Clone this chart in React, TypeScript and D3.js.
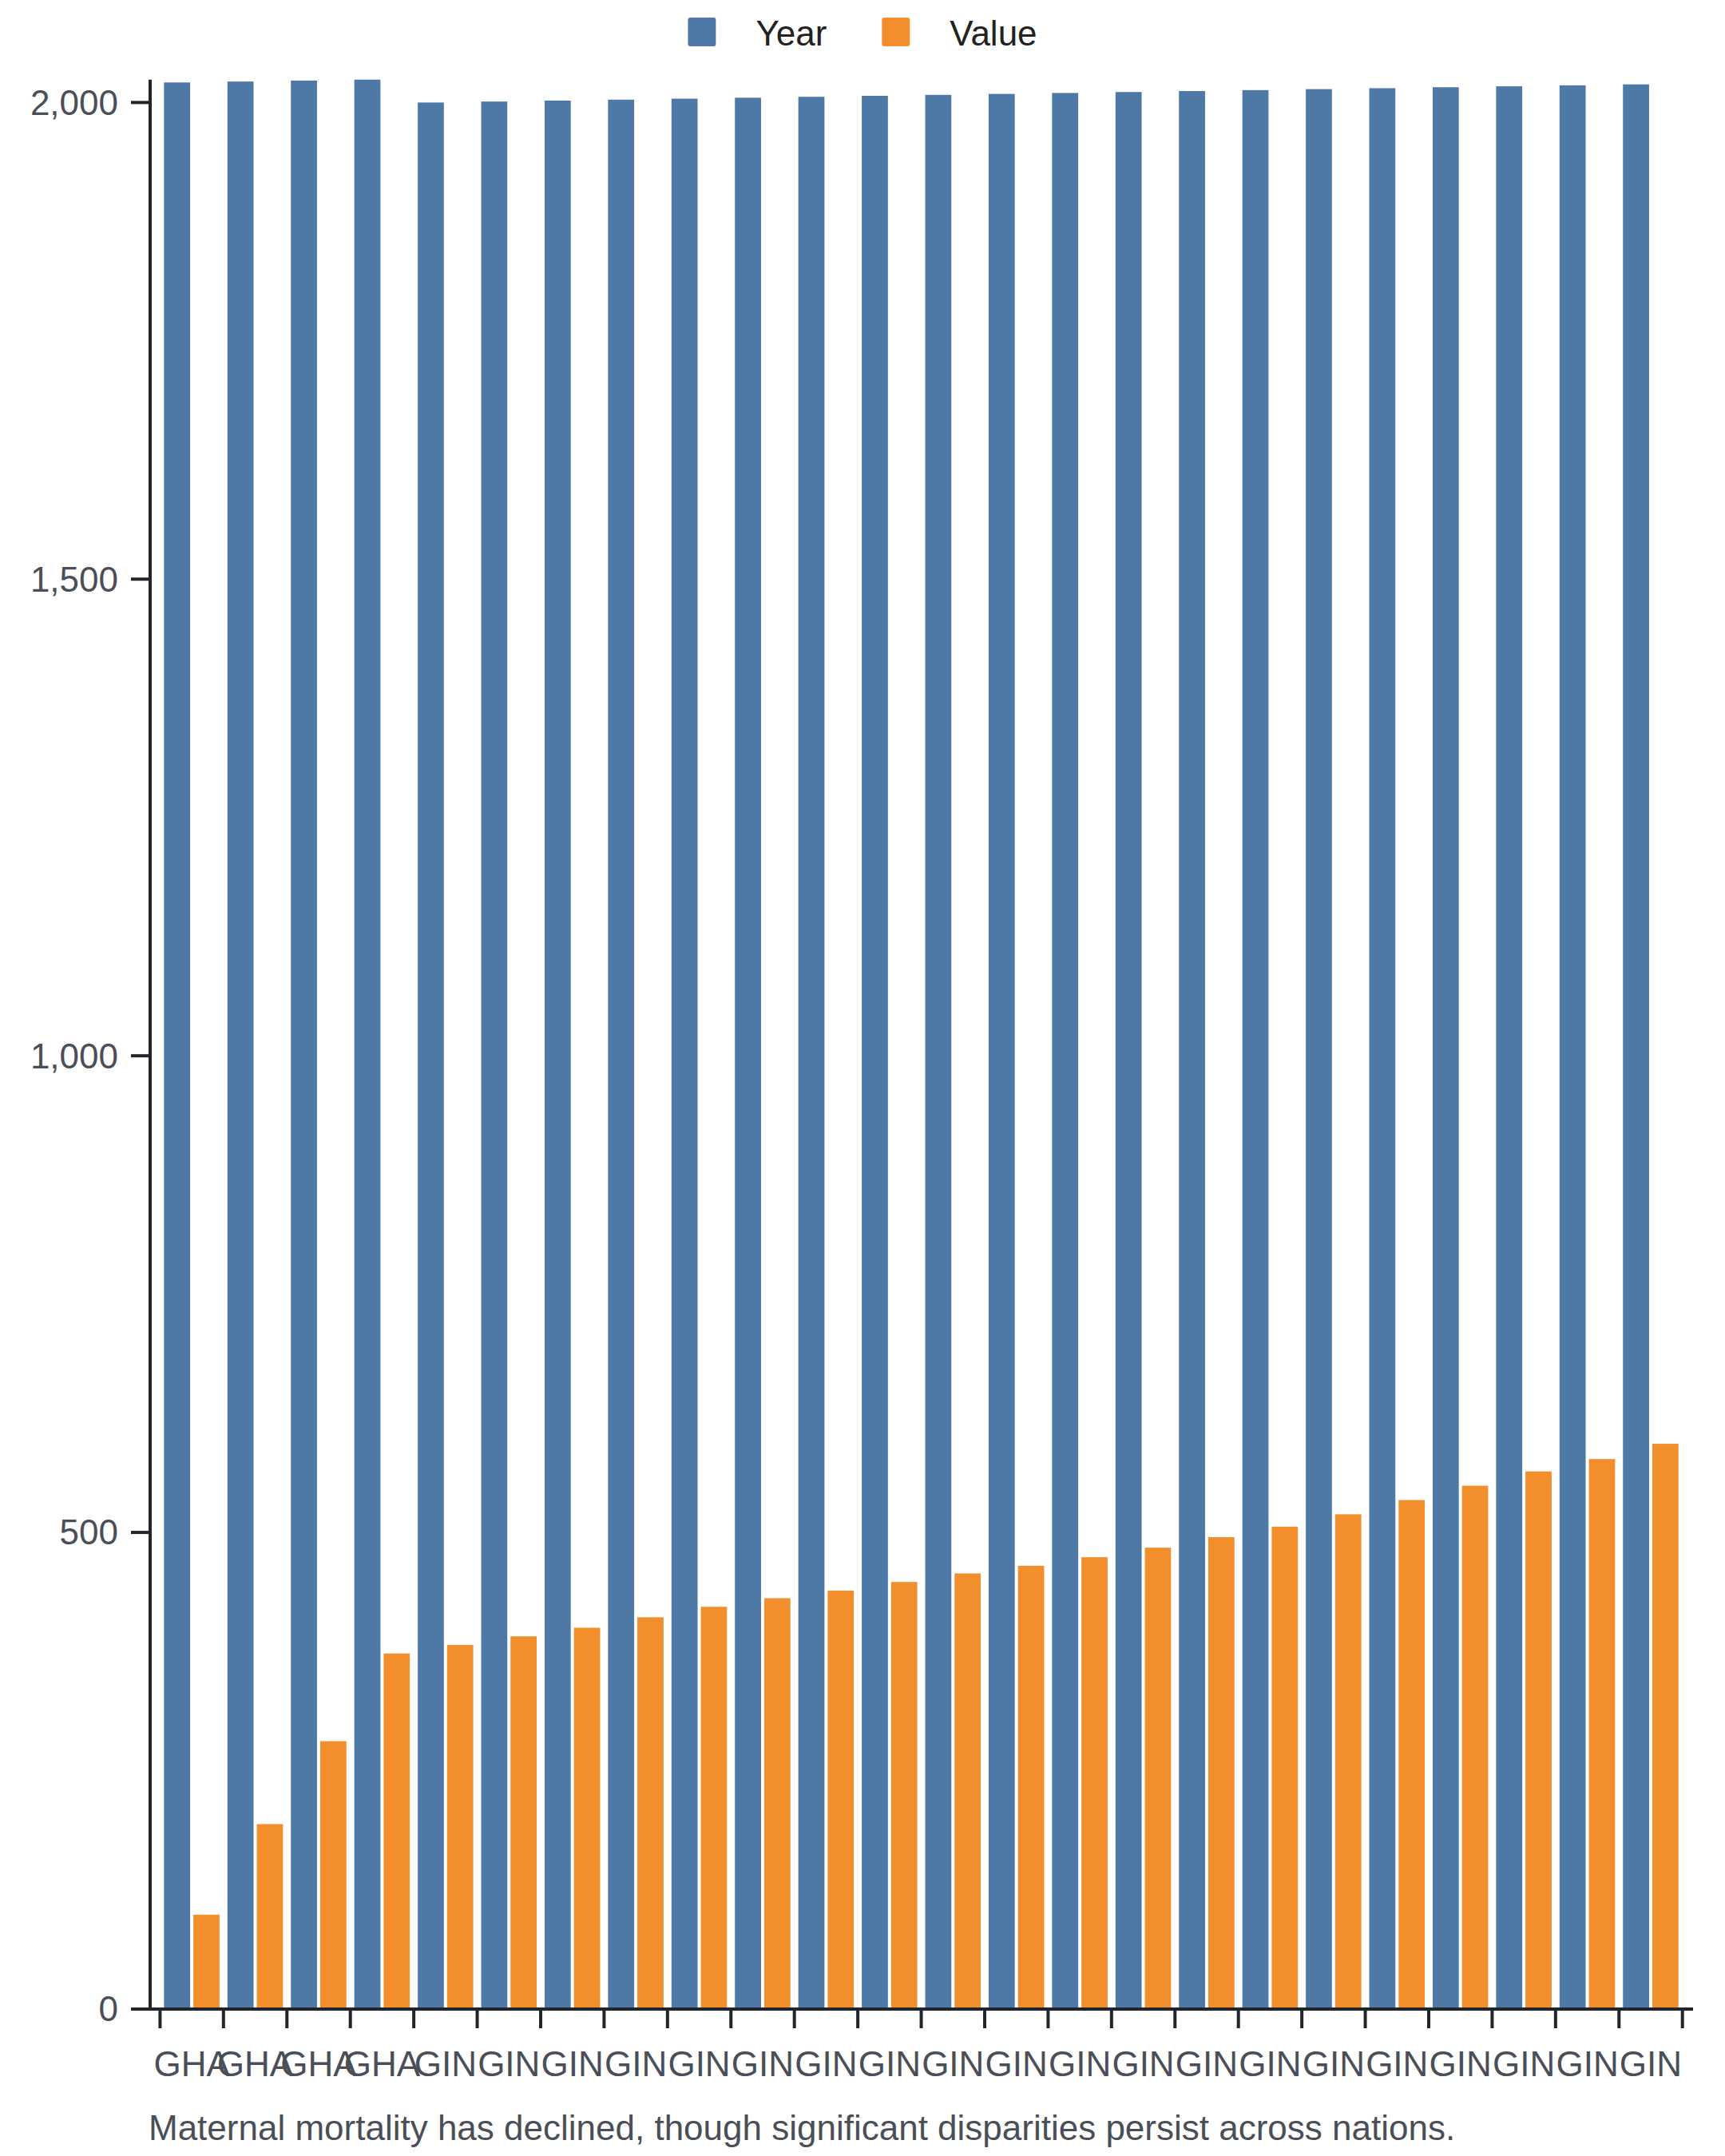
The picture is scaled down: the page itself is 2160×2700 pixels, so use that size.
import React, { useEffect, useRef } from 'react';
import * as d3 from 'd3';

// one entry per bar group
const countries = ['GHA', 'GHA', 'GHA', 'GHA', 'GIN', 'GIN', 'GIN', 'GIN', 'GIN', 'GIN', 'GIN', 'GIN',
  'GIN', 'GIN', 'GIN', 'GIN', 'GIN', 'GIN', 'GIN', 'GIN', 'GIN', 'GIN', 'GIN', 'GIN'];
const years = [2021, 2022, 2023, 2024, 2000, 2001, 2002, 2003, 2004, 2005, 2006, 2007,
  2008, 2009, 2010, 2011, 2012, 2013, 2014, 2015, 2016, 2017, 2018, 2019];
const values = [99, 194, 281, 373, 382, 391, 400, 411, 422, 431, 439, 448,
  457, 465, 474, 484, 495, 506, 519, 534, 549, 564, 577, 593];

const seriesNames = ['Year', 'Value'];
const seriesColors = ['#4e79a7', '#f28e2b'];
const yTicks = [0, 500, 1000, 1500, 2000];
const caption = 'Maternal mortality has declined, though significant disparities persist across nations.';

const FONT = '"Liberation Sans", Arial, Helvetica, sans-serif';
const AXIS = '#222529';
const LABEL = '#4a4f57';

function App(): JSX.Element {
  const svgRef = useRef<SVGSVGElement>(null);

  useEffect(() => {
    const width = 2160;
    const height = 2700;
    const svg = d3.select(svgRef.current);
    svg.selectAll('*').remove();
    svg.attr('width', width).attr('height', height).attr('viewBox', `0 0 ${width} ${height}`);

    const rows = countries.map((c, i) => ({ idx: i, country: c, Year: years[i], Value: values[i] }));

    const plotLeft = 188;
    const plotRight = 2120;
    const baseY = 2516;
    const pad = 0.125;

    const x0 = d3.scaleBand<number>()
      .domain(rows.map(d => d.idx))
      .range([200.4, 2106.7])
      .paddingInner(pad)
      .paddingOuter(pad / 2);

    const x1 = d3.scaleBand<string>()
      .domain(seriesNames)
      .range([0, x0.bandwidth()])
      .paddingInner(0.11);

    const color = d3.scaleOrdinal<string, string>().domain(seriesNames).range(seriesColors);

    const y = d3.scaleLinear()
      .domain([0, d3.max(rows, d => Math.max(d.Year, d.Value)) as number])
      .range([baseY, 99.7]);

    // bars
    const groups = svg.append('g')
      .selectAll('g')
      .data(rows)
      .join('g')
      .attr('transform', d => `translate(${x0(d.idx)},0)`);

    groups.selectAll('rect')
      .data(d => seriesNames.map(k => ({ key: k, value: (d as any)[k] as number })))
      .join('rect')
      .attr('x', d => x1(d.key) as number)
      .attr('width', x1.bandwidth())
      .attr('y', d => y(d.value))
      .attr('height', d => y(0) - y(d.value))
      .attr('fill', d => color(d.key));

    // y axis
    const yAxis = svg.append('g');
    yAxis.append('line')
      .attr('x1', plotLeft).attr('x2', plotLeft)
      .attr('y1', y(y.domain()[1])).attr('y2', baseY + 2)
      .attr('stroke', AXIS).attr('stroke-width', 4);
    yAxis.selectAll('.tick')
      .data(yTicks)
      .join('line')
      .attr('class', 'tick')
      .attr('x1', plotLeft - 24).attr('x2', plotLeft)
      .attr('y1', d => y(d)).attr('y2', d => y(d))
      .attr('stroke', AXIS).attr('stroke-width', 4);
    yAxis.selectAll('text')
      .data(yTicks)
      .join('text')
      .attr('x', plotLeft - 40)
      .attr('y', d => y(d))
      .attr('dy', '0.35em')
      .attr('text-anchor', 'end')
      .attr('font-family', FONT)
      .attr('font-size', 44)
      .attr('fill', LABEL)
      .text(d => d3.format(',')(d));

    // x axis
    const xAxis = svg.append('g');
    xAxis.append('line')
      .attr('x1', plotLeft - 2).attr('x2', plotRight)
      .attr('y1', baseY).attr('y2', baseY)
      .attr('stroke', AXIS).attr('stroke-width', 4);
    const edges = rows.map(d => (x0(d.idx) as number) - x0.step() * pad / 2);
    edges.push(edges[edges.length - 1] + x0.step());
    xAxis.selectAll('.tick')
      .data(edges)
      .join('line')
      .attr('class', 'tick')
      .attr('x1', d => d).attr('x2', d => d)
      .attr('y1', baseY).attr('y2', baseY + 24)
      .attr('stroke', AXIS).attr('stroke-width', 4);
    xAxis.selectAll('text')
      .data(rows)
      .join('text')
      .attr('x', d => (x0(d.idx) as number) + x0.bandwidth() / 2)
      .attr('y', 2600)
      .attr('text-anchor', 'middle')
      .attr('font-family', FONT)
      .attr('font-size', 44)
      .attr('fill', LABEL)
      .text(d => d.country);

    // legend, centred over the chart
    const legend = svg.append('g');
    const items = legend.selectAll('g')
      .data(seriesNames)
      .join('g');
    items.append('rect')
      .attr('width', 35).attr('height', 36)
      .attr('y', 22).attr('rx', 3)
      .attr('fill', d => color(d));
    const labels = items.append('text')
      .attr('x', 85)
      .attr('y', 57)
      .attr('font-family', FONT)
      .attr('font-size', 44)
      .attr('fill', '#222222')
      .text(d => d);
    const widths: number[] = [];
    labels.each(function () { widths.push((this as SVGTextElement).getComputedTextLength()); });
    const gap = 69;
    const total = widths.reduce((s, w) => s + 85 + w, 0) + gap * (widths.length - 1);
    let cursor = width / 2 - total / 2;
    items.attr('transform', (_, i) => {
      const t = `translate(${cursor},0)`;
      cursor += 85 + widths[i] + gap;
      return t;
    });

    // caption
    svg.append('text')
      .attr('x', 186)
      .attr('y', 2680)
      .attr('font-family', FONT)
      .attr('font-size', 44)
      .attr('fill', LABEL)
      .text(caption);
  }, []);

  return (
    <div style={{ position: 'absolute', left: 0, top: 0, background: '#fff' }}>
      <svg ref={svgRef} style={{ display: 'block' }}></svg>
    </div>
  );
}

export default App;
